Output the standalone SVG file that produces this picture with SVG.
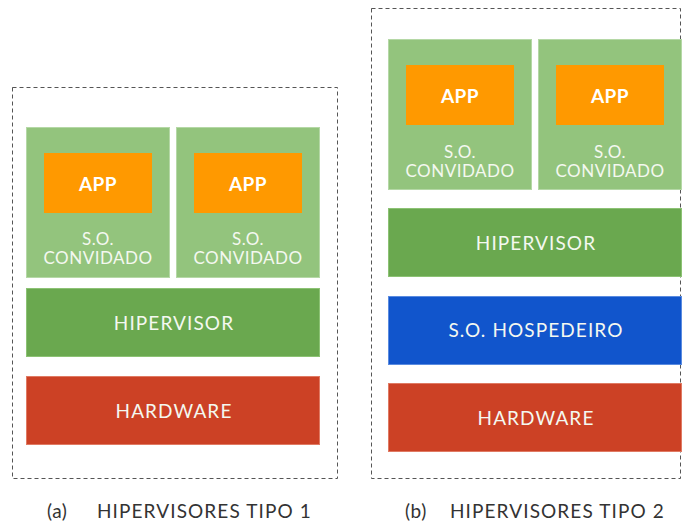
<svg xmlns="http://www.w3.org/2000/svg" width="683" height="524" viewBox="0 0 683 524">
  <style>
    .frame { fill: none; stroke: #555; stroke-width: 1; stroke-dasharray: 4 3; }
    .guest { fill: #93c47d; stroke: #b5d8a6; stroke-width: 1; }
    .app { fill: #ff9900; }
    .hyp { fill: #6aa84f; stroke: #8cc274; stroke-width: 1; }
    .hw { fill: #cc4125; stroke: #e07a63; stroke-width: 1; }
    .host { fill: #1155cc; stroke: #5a8be0; stroke-width: 1; }
    text { font-family: Lato, "Open Sans", sans-serif; text-anchor: middle; }
    .appt { fill: #fff; font-weight: bold; font-size: 19px; letter-spacing: 0.5px; }
    .lbl { fill: #f4f8f0; font-size: 17px; letter-spacing: 0.5px; }
    .big { fill: #f4f8f0; font-size: 19px; letter-spacing: 1.1px; }
    .cap { fill: #333; font-size: 19px; letter-spacing: 1.1px; text-anchor: start; }
  </style>

  <!-- (a) type 1 hypervisor stack -->
  <rect class="frame" x="12.5" y="87.5" width="325" height="391"/>
  <g id="a-guest1">
    <rect class="guest" x="26.5" y="127.5" width="143" height="150"/>
    <rect class="app" x="44" y="153" width="108" height="60"/>
    <text class="appt" x="98" y="191">APP</text>
    <text class="lbl" x="98" y="245">S.O.</text>
    <text class="lbl" x="98" y="264">CONVIDADO</text>
  </g>
  <g id="a-guest2">
    <rect class="guest" x="176.5" y="127.5" width="143" height="150"/>
    <rect class="app" x="194" y="153" width="108" height="60"/>
    <text class="appt" x="248" y="191">APP</text>
    <text class="lbl" x="248" y="245">S.O.</text>
    <text class="lbl" x="248" y="264">CONVIDADO</text>
  </g>
  <g id="a-hypervisor">
    <rect class="hyp" x="26.5" y="288.5" width="293" height="68"/>
    <text class="big" x="174" y="330">HIPERVISOR</text>
  </g>
  <g id="a-hardware">
    <rect class="hw" x="26.5" y="376.5" width="293" height="68"/>
    <text class="big" x="174" y="418">HARDWARE</text>
  </g>
  <text class="cap" x="47" y="518" style="letter-spacing:0.5px">(a)</text>
  <text class="cap" x="97" y="518">HIPERVISORES TIPO 1</text>

  <!-- (b) type 2 hypervisor stack -->
  <rect class="frame" x="371.5" y="8.5" width="309" height="470"/>
  <g id="b-guest1">
    <rect class="guest" x="388.5" y="39.5" width="143" height="150"/>
    <rect class="app" x="406" y="65" width="108" height="60"/>
    <text class="appt" x="460" y="103">APP</text>
    <text class="lbl" x="460" y="158">S.O.</text>
    <text class="lbl" x="460" y="177">CONVIDADO</text>
  </g>
  <g id="b-guest2">
    <rect class="guest" x="538.5" y="39.5" width="143" height="150"/>
    <rect class="app" x="556" y="65" width="108" height="60"/>
    <text class="appt" x="610" y="103">APP</text>
    <text class="lbl" x="610" y="158">S.O.</text>
    <text class="lbl" x="610" y="177">CONVIDADO</text>
  </g>
  <g id="b-hypervisor">
    <rect class="hyp" x="388.5" y="208.5" width="293" height="68"/>
    <text class="big" x="536" y="250">HIPERVISOR</text>
  </g>
  <g id="b-host">
    <rect class="host" x="388.5" y="296.5" width="293" height="68"/>
    <text class="big" x="536" y="337">S.O. HOSPEDEIRO</text>
  </g>
  <g id="b-hardware">
    <rect class="hw" x="388.5" y="383.5" width="293" height="68"/>
    <text class="big" x="536" y="425">HARDWARE</text>
  </g>
  <text class="cap" x="405" y="518" style="letter-spacing:0.5px">(b)</text>
  <text class="cap" x="450" y="518">HIPERVISORES TIPO 2</text>
</svg>
